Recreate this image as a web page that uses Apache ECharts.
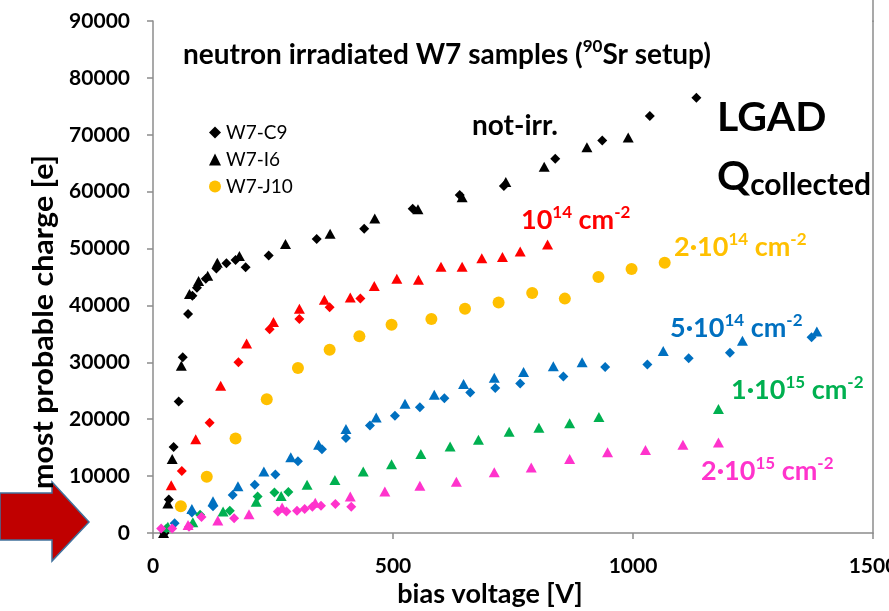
<!DOCTYPE html>
<html><head><meta charset="utf-8">
<script src="https://cdn.jsdelivr.net/npm/echarts@6/dist/echarts.min.js"></script>
<style>html,body{margin:0;padding:0;background:#fff;overflow:hidden}#c{width:889px;height:611px}</style>
</head><body><div id="c"></div>
<script>
// ---- data (bias voltage [V], most probable charge [e]) ----
const blackDiaV = [24,33,43,53.5,62,73,82,91.5,110,132,153,172,193,241,341,440,541,639,731,838,936,1035,1132];
const blackDiaQ = [0,5900,15100,23100,30900,38500,41700,43100,44700,46500,47400,48000,46700,48800,51700,53500,57000,59400,61000,65800,69000,73300,76500];
const blackTriV = [22,31,40,59,76,95,114,134,180,276,369,462,552,644,735,815,904,990];
const blackTriQ = [0,5200,13000,29400,42000,44300,45200,47500,48700,50800,52600,55300,56900,59000,61700,64400,67800,69500];

const redDiaV = [60,118,178,243,305,368,432];
const redDiaQ = [10900,19400,30000,35800,37600,39700,41200];
const redTriV = [38,89,141,195,251,305,357,411,461,508,553,600,644,685,728,765,822];
const redTriQ = [8400,16500,25900,33300,37100,39400,41000,41400,43400,44700,44500,46800,46800,48300,48500,49500,50700];

const orangeCirV = [58,112,172,237,302,368,430,497,580,650,720,790,858,928,997,1066];
const orangeCirQ = [4700,9900,16600,23500,29000,32200,34600,36600,37600,39400,40500,42200,41200,45000,46400,47500];

const blueDiaV = [45,81,125,166,212,255,302,352,402,452,504,556,607,661,713,765,855,942,1030,1116,1202,1372];
const blueDiaQ = [1700,3600,4700,6700,8500,10300,12600,14700,16700,18900,20600,22100,23700,24700,25500,26300,27500,29200,29600,30700,31700,34400];
const blueTriV = [81,125,177,231,287,345,402,465,525,586,647,711,772,834,894,1063,1228,1383];
const blueTriQ = [4200,5600,8200,10800,13300,15500,18300,20300,22700,24300,26200,27300,28300,29300,30000,32000,33800,35400];

const greenDiaV = [28,98,160,218,253,282];
const greenDiaQ = [800,3200,3900,6400,7100,7200];
const greenTriV = [31,83,146,215,267,321,379,438,497,558,619,678,742,804,868,929,1178];
const greenTriQ = [1100,1900,3800,5500,6500,8500,9300,10800,12100,13900,15200,16400,17800,18500,19300,20400,21800];

const magDiaV = [17,40,75,101,169,260,278,300,316,332,350,380,413];
const magDiaQ = [800,800,1100,2800,2600,3800,3800,3900,4200,4600,4800,5100,4600];
const magTriV = [73,135,200,269,338,411,483,556,632,711,788,868,947,1026,1104,1178];
const magTriQ = [1400,2200,3300,4500,5300,6400,7300,8300,9000,10700,11500,13000,14200,14600,15500,15900];

const xTicks = [0,500,1000,1500];
const yTicks = [0,10000,20000,30000,40000,50000,60000,70000,80000,90000];

const C = {black:'#000000', red:'#FF0000', orange:'#FFC000', blue:'#0070C0', green:'#00B050', mag:'#FF33CC'};
const FONT = 'Lato, "Open Sans", sans-serif';

function zip(a,b){ return a.map((v,i)=>[v,b[i]]); }
function sc(name, v, q, sym, color, size){
  return {type:'scatter', name, data:zip(v,q), symbol:sym, symbolSize:size, clip:false,
    itemStyle:{color, opacity:1}, emphasis:{disabled:true}, z:3};
}
const DS = 10, TS = [11,10], CS = 12;

function supLabel(parts, color, x, y){
  return {type:'text', left:x, top:y, z:20, style:{
    text:'{b|'+parts[0]+'}{s|'+parts[1]+'}{b| cm}{s|-2}',
    rich:{b:{fontFamily:FONT, fontWeight:'bold', fontSize:27, lineHeight:32, fill:color},
          s:{fontFamily:FONT, fontWeight:'bold', fontSize:17, lineHeight:17, verticalAlign:'top', fill:color}}}};
}

const chart = echarts.init(document.getElementById('c'), null, {renderer:'canvas'});
const axisGray = '#8C8C8C';
chart.setOption({
  animation:false,
  backgroundColor:'#ffffff',
  grid:{left:153, right:16, top:21, bottom:78, containLabel:false, outerBoundsMode:'none'},
  xAxis:{type:'value', min:0, max:1500, interval:500,
    axisLine:{show:true, onZero:false, lineStyle:{color:axisGray, width:1.5}},
    axisTick:{show:true, length:6, lineStyle:{color:axisGray, width:1.5}},
    splitLine:{show:false},
    axisLabel:{color:'#000', fontFamily:FONT, fontWeight:'bold', fontSize:21, margin:23,
      formatter:(v)=> xTicks.includes(v) ? String(v) : ''}},
  yAxis:[{type:'value', min:0, max:90000, interval:10000,
    axisLine:{show:true, lineStyle:{color:axisGray, width:1.5}},
    axisTick:{show:true, length:6, lineStyle:{color:axisGray, width:1.5}},
    splitLine:{show:false},
    axisLabel:{color:'#000', fontFamily:FONT, fontWeight:'bold', fontSize:21, margin:23,
      formatter:(v)=> yTicks.includes(v) ? String(v) : ''}},
   {type:'value', position:'right', min:0, max:90000, interval:10000,
    axisLine:{show:true, lineStyle:{color:axisGray, width:1.5}},
    axisTick:{show:false}, axisLabel:{show:false}, splitLine:{show:false}}],
  legend:{show:true, orient:'vertical', left:204, top:118, itemGap:8, itemWidth:12, itemHeight:12,
    data:['W7-C9','W7-I6','W7-J10'], selectedMode:false,
    textStyle:{color:'#000', fontFamily:FONT, fontSize:19}},
  series:[
    sc('W7-C9', blackDiaV, blackDiaQ, 'diamond', C.black, DS),
    sc('W7-I6', blackTriV, blackTriQ, 'triangle', C.black, TS),
    sc('W7-J10', orangeCirV, orangeCirQ, 'circle', C.orange, CS),
    sc('W7-C9 1e14', redDiaV, redDiaQ, 'diamond', C.red, DS),
    sc('W7-I6 1e14', redTriV, redTriQ, 'triangle', C.red, TS),
    sc('W7-C9 5e14', blueDiaV, blueDiaQ, 'diamond', C.blue, DS),
    sc('W7-I6 5e14', blueTriV, blueTriQ, 'triangle', C.blue, TS),
    sc('W7-C9 1e15', greenDiaV, greenDiaQ, 'diamond', C.green, DS),
    sc('W7-I6 1e15', greenTriV, greenTriQ, 'triangle', C.green, TS),
    sc('W7-C9 2e15', magDiaV, magDiaQ, 'diamond', C.mag, DS),
    sc('W7-I6 2e15', magTriV, magTriQ, 'triangle', C.mag, TS)
  ],
  graphic:[
    {type:'line', shape:{x1:873, y1:0, x2:873, y2:22}, style:{stroke:axisGray, lineWidth:1.5}},
    {type:'polygon', shape:{points:[[0,493],[52,493],[52,482],[89,522],[52,561],[52,540],[0,540]]},
      style:{fill:'#C00000', stroke:'#41719C', lineWidth:1.5}, z:10},
    {type:'text', x:490, y:594, z:20, style:{text:'bias voltage [V]', align:'center', verticalAlign:'middle',
      fontFamily:FONT, fontWeight:'bold', fontSize:27, fill:'#000'}},
    {type:'text', x:44, y:322, rotation:Math.PI/2, scaleX:1.09, z:20, style:{text:'most probable charge [e]', align:'center', verticalAlign:'middle',
      fontFamily:FONT, fontWeight:'bold', fontSize:28, fill:'#000'}},
    {type:'text', left:183, top:38, z:20, style:{
      text:'{b|neutron irradiated W7 samples (}{s|90}{b|Sr setup)}',
      rich:{b:{fontFamily:FONT, fontWeight:'bold', fontSize:28, lineHeight:34, fill:'#000'},
            s:{fontFamily:FONT, fontWeight:'bold', fontSize:17, lineHeight:17, verticalAlign:'top', fill:'#000'}}}},
    {type:'text', left:472, top:112, z:20, style:{text:'not-irr.', fontFamily:FONT, fontWeight:'bold', fontSize:28, fill:'#000'}},
    {type:'text', left:717, top:97, z:20, style:{text:'LGAD', fontFamily:FONT, fontWeight:'bold', fontSize:41, fill:'#000'}},
    {type:'text', left:717, top:156, z:20, style:{
      text:'{q|Q}{c|collected}',
      rich:{q:{fontFamily:FONT, fontWeight:'bold', fontSize:41, lineHeight:48, fill:'#000'},
            c:{fontFamily:FONT, fontWeight:'bold', fontSize:30, lineHeight:30, verticalAlign:'bottom', fill:'#000'}}}},
    supLabel(['10','14'], C.red, 521, 204),
    supLabel(['2·10','14'], C.orange, 674, 231),
    supLabel(['5·10','14'], C.blue, 670, 312),
    supLabel(['1·10','15'], C.green, 731, 374),
    supLabel(['2·10','15'], C.mag, 701, 455)
  ]
});
</script></body></html>
